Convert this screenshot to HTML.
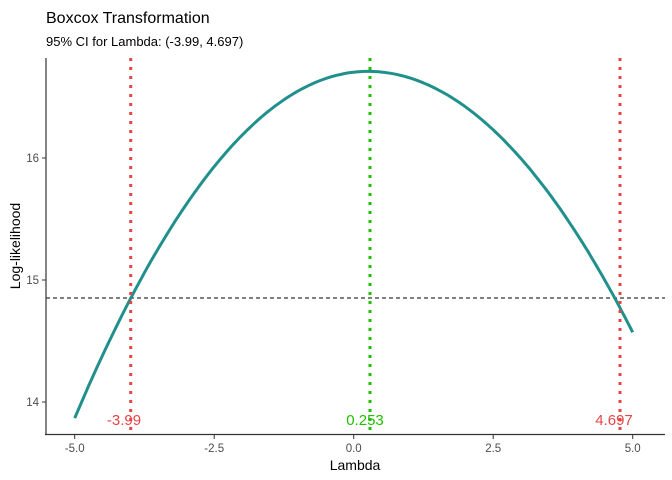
<!DOCTYPE html>
<html><head><style>body{margin:0;background:#fff}svg{display:block;font-family:"Liberation Sans",sans-serif}</style></head>
<body>
<svg width="672" height="480" xmlns="http://www.w3.org/2000/svg">
<text x="46" y="23" font-size="16" fill="#000">Boxcox Transformation</text>
<text x="46" y="46" font-size="13" fill="#000">95% CI for Lambda: (-3.99, 4.697)</text>
<line x1="46" y1="298" x2="665" y2="298" stroke="#000" stroke-width="1" stroke-dasharray="4,3"/>
<path id="c" fill="none" stroke="#21908c" stroke-width="3"/>
<line x1="130.7" y1="58" x2="130.7" y2="434" stroke="#e64545" stroke-width="3" stroke-dasharray="3,6"/>
<line x1="620" y1="58" x2="620" y2="434" stroke="#e64545" stroke-width="3" stroke-dasharray="3,6"/>
<line x1="370" y1="58" x2="370" y2="434" stroke="#1fbf00" stroke-width="3" stroke-dasharray="3,6"/>
<text x="124" y="425" font-size="15" fill="#e64545" text-anchor="middle">-3.99</text>
<text x="614" y="425" font-size="15" fill="#e64545" text-anchor="middle">4.697</text>
<text x="365" y="425" font-size="15" fill="#1fbf00" text-anchor="middle">0.253</text>
<line x1="46" y1="58" x2="46" y2="435" stroke="#333" stroke-width="1.2"/>
<line x1="45" y1="434.5" x2="665" y2="434.5" stroke="#333" stroke-width="1.2"/>
<g stroke="#333"><line x1="42" y1="158" x2="46" y2="158"/><line x1="42" y1="280" x2="46" y2="280"/><line x1="42" y1="402" x2="46" y2="402"/>
<line x1="74.7" y1="435" x2="74.7" y2="439"/><line x1="214.2" y1="435" x2="214.2" y2="439"/><line x1="353.7" y1="435" x2="353.7" y2="439"/><line x1="493.2" y1="435" x2="493.2" y2="439"/><line x1="632.7" y1="435" x2="632.7" y2="439"/></g>
<g font-size="11.5" fill="#4d4d4d" text-anchor="end"><text x="39" y="162">16</text><text x="39" y="284">15</text><text x="39" y="406">14</text></g>
<g font-size="11.5" fill="#4d4d4d" text-anchor="middle"><text x="74.7" y="452">-5.0</text><text x="214.2" y="452">-2.5</text><text x="353.7" y="452">0.0</text><text x="493.2" y="452">2.5</text><text x="632.7" y="452">5.0</text></g>
<text x="355" y="470" font-size="14" text-anchor="middle">Lambda</text>
<text transform="translate(20,246) rotate(-90)" font-size="14" text-anchor="middle">Log-likelihood</text>
</svg>
<script>
var d="";for(var i=0;i<=200;i++){var x=-5+i*0.05;var dx=x-0.253;var b=dx<0?0.103:0.0949;var L=16.71-b*dx*dx;var px=353.7+x*55.8,py=158+(16-L)*122;d+=(i?"L":"M")+px.toFixed(1)+","+py.toFixed(1);}
document.getElementById("c").setAttribute("d",d);
</script>
</body></html>
